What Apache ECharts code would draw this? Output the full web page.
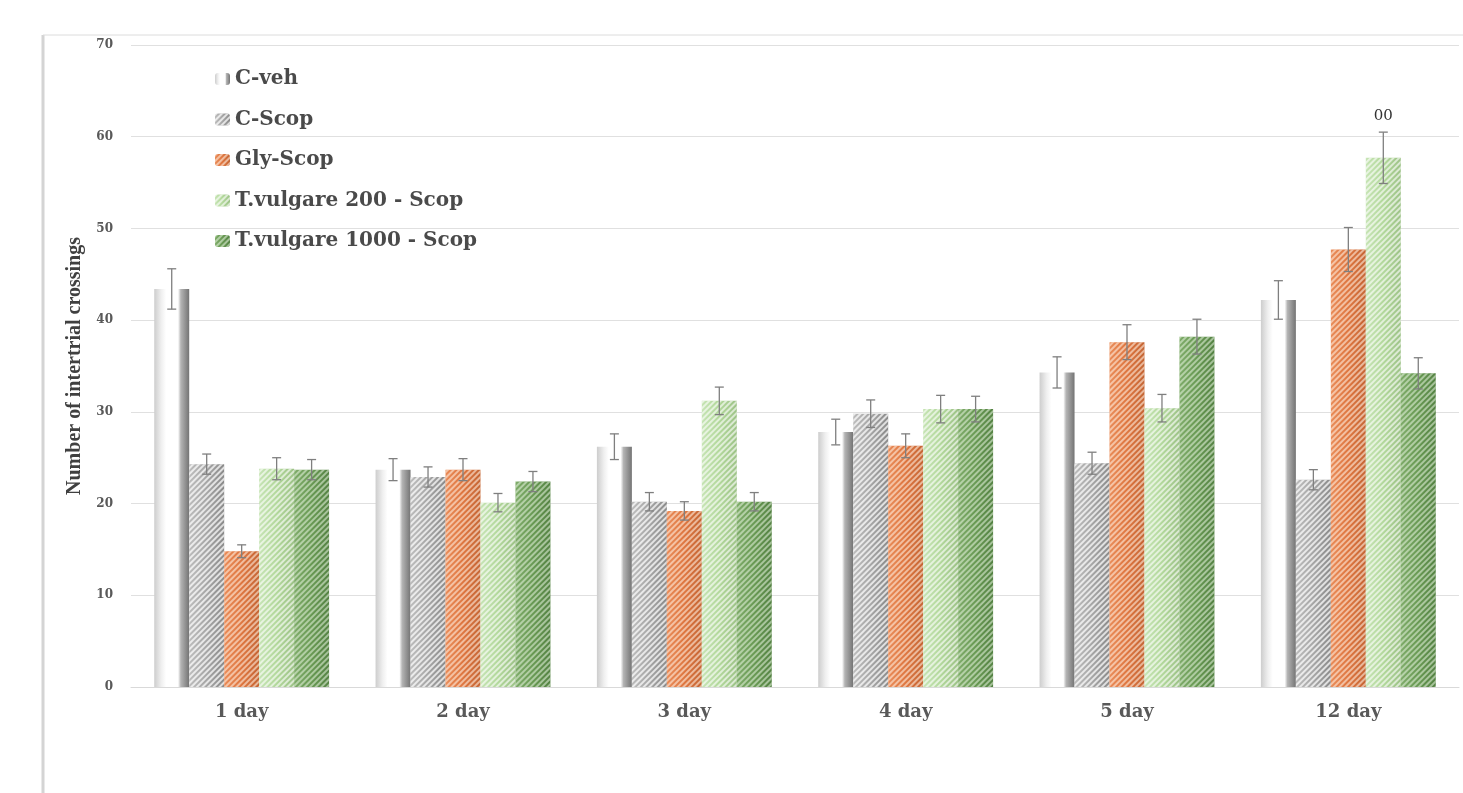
<!DOCTYPE html>
<html>
<head>
<meta charset="utf-8">
<title>Intertrial crossings</title>
<script src="https://cdn.jsdelivr.net/npm/echarts@6/dist/echarts.min.js"></script>
<style>
  * { margin: 0; padding: 0; }
  body { background: #fff; }
  #main { width: 1463px; height: 793px; }
</style>
</head>
<body>
<div id="main"></div>
<script>
// days on the x axis
var days = ['1 day', '2 day', '3 day', '4 day', '5 day', '12 day']

// means
var cVeh = [43.4, 23.7, 26.2, 27.8, 34.3, 42.2]
var cScop = [24.3, 22.9, 20.2, 29.8, 24.4, 22.6]
var glyScop = [14.8, 23.7, 19.2, 26.3, 37.6, 47.7]
var tv200 = [23.8, 20.1, 31.2, 30.3, 30.4, 57.7]
var tv1000 = [23.7, 22.4, 20.2, 30.3, 38.2, 34.2]

// error bar half lengths
var cVehErr = [2.2, 1.2, 1.4, 1.4, 1.7, 2.1]
var cScopErr = [1.1, 1.1, 1.0, 1.5, 1.2, 1.1]
var glyScopErr = [0.7, 1.2, 1.0, 1.3, 1.9, 2.4]
var tv200Err = [1.2, 1.0, 1.5, 1.5, 1.5, 2.8]
var tv1000Err = [1.1, 1.1, 1.0, 1.4, 1.9, 1.7]

// significance marks above error bars
var tv200Marks = ['', '', '', '', '', '00']

var yTicks = [0, 10, 20, 30, 40, 50, 60, 70]

var names = ['C-veh', 'C-Scop', 'Gly-Scop', 'T.vulgare 200 - Scop', 'T.vulgare 1000 - Scop']
var means = [cVeh, cScop, glyScop, tv200, tv1000]
var errs = [cVehErr, cScopErr, glyScopErr, tv200Err, tv1000Err]
var marks = [null, null, null, tv200Marks, null]

var catGap = 0.21

function shade (stops) {
  return {
    type: 'linear', x: 0, y: 0, x2: 1, y2: 0,
    colorStops: stops.map(function (c) { return { offset: c[0], color: c[1] } })
  }
}

function stripes (col) {
  return {
    symbol: 'rect',
    symbolSize: 1,
    dashArrayX: [1, 0],
    dashArrayY: [2, 2],
    rotation: -Math.PI / 4,
    color: col
  }
}

var styles = [
  { color: shade([[0, '#cdcdcd'], [0.2, '#efefef'], [0.34, '#ffffff'], [0.68, '#ffffff'], [0.76, '#b4b4b4'], [1, '#747474']]) },
  { color: shade([[0, '#bcbcbc'], [0.5, '#a6a6a6'], [1, '#8a8a8a']]), decal: stripes('rgba(255,255,255,0.72)') },
  { color: shade([[0, '#e98b58'], [0.5, '#de7640'], [1, '#c46534']]), decal: stripes('rgba(255,236,222,0.6)') },
  { color: shade([[0, '#c6e4b4'], [0.5, '#b2d89b'], [1, '#9cc286']]), decal: stripes('rgba(255,255,255,0.62)') },
  { color: shade([[0, '#7eab69'], [0.5, '#689953'], [1, '#548243']]), decal: stripes('rgba(232,244,224,0.55)') }
]

var series = names.map(function (n, i) {
  return {
    name: n,
    type: 'bar',
    barGap: '0%',
    barCategoryGap: (catGap * 100) + '%',
    data: means[i],
    itemStyle: styles[i],
    emphasis: { disabled: true }
  }
})

// error bars: [category, low, high, series index]
var errData = []
means.forEach(function (arr, s) {
  arr.forEach(function (v, c) {
    errData.push([c, v - errs[s][c], v + errs[s][c], s])
  })
})

function renderErr (params, api) {
  var c = api.value(0)
  var s = api.value(3)
  var band = api.size([1, 0])[0]
  var bw = band * (1 - catGap) / names.length
  var x = api.coord([c, 0])[0] + (s - (names.length - 1) / 2) * bw
  var yLo = api.coord([c, api.value(1)])[1]
  var yHi = api.coord([c, api.value(2)])[1]
  var st = { stroke: '#7f7f7f', lineWidth: 1.3 }
  var kids = [
    { type: 'line', shape: { x1: x, y1: yLo, x2: x, y2: yHi }, style: st },
    { type: 'line', shape: { x1: x - 4.5, y1: yHi, x2: x + 4.5, y2: yHi }, style: st },
    { type: 'line', shape: { x1: x - 4.5, y1: yLo, x2: x + 4.5, y2: yLo }, style: st }
  ]
  var m = marks[s] && marks[s][c]
  if (m) {
    kids.push({
      type: 'text',
      style: {
        x: x, y: yHi - 9, text: m, align: 'center', verticalAlign: 'bottom',
        font: '15px "DejaVu Serif"', fill: '#333'
      }
    })
  }
  return { type: 'group', children: kids }
}

series.push({
  name: 'err',
  type: 'custom',
  renderItem: renderErr,
  data: errData,
  z: 10,
  silent: true
})

var myChart = echarts.init(document.getElementById('main'))
myChart.setOption({
  animation: false,
  backgroundColor: '#fff',
  graphic: [
    { type: 'line', shape: { x1: 43, y1: 35, x2: 43, y2: 793 }, style: { stroke: '#d4d4d4', lineWidth: 3 } },
    { type: 'line', shape: { x1: 43, y1: 35, x2: 1463, y2: 35 }, style: { stroke: '#dcdcdc', lineWidth: 1 } }
  ],
  legend: {
    data: names,
    orient: 'vertical',
    left: 210,
    top: 62,
    itemWidth: 15,
    itemHeight: 12,
    itemGap: 16.5,
    textStyle: {
      fontFamily: 'DejaVu Serif',
      fontWeight: 'bold',
      fontSize: 20,
      lineHeight: 24,
      color: '#4a4a4a'
    }
  },
  grid: { left: 131, right: 4, top: 45, bottom: 106 },
  xAxis: {
    type: 'category',
    data: days,
    axisTick: { show: false },
    axisLine: { lineStyle: { color: '#d9d9d9' } },
    axisLabel: {
      margin: 16,
      fontFamily: 'DejaVu Serif',
      fontWeight: 'bold',
      fontSize: 18,
      color: '#595959'
    }
  },
  yAxis: {
    type: 'value',
    min: yTicks[0],
    max: yTicks[yTicks.length - 1],
    interval: 10,
    name: 'Number of intertrial crossings',
    nameLocation: 'middle',
    nameGap: 46,
    nameTextStyle: {
      fontFamily: 'Liberation Serif',
      fontWeight: 'bold',
      fontSize: 20,
      color: '#404040'
    },
    axisLine: { show: false },
    axisTick: { show: false },
    splitLine: { lineStyle: { color: '#e0e0e0' } },
    axisLabel: {
      margin: 18,
      fontFamily: 'DejaVu Serif',
      fontWeight: 'bold',
      fontSize: 12,
      color: '#595959'
    }
  },
  series: series
})
</script>
</body>
</html>
